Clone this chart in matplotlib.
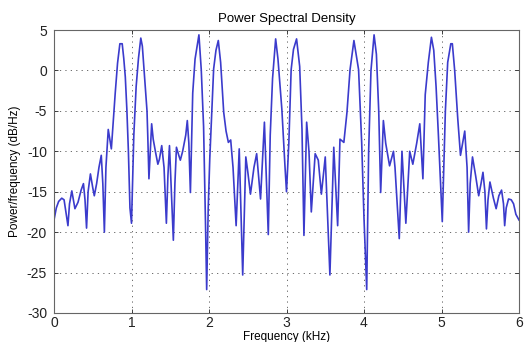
import numpy as np
import matplotlib
matplotlib.use('Agg')
import matplotlib.pyplot as plt

plt.rcParams['font.family'] = ['Liberation Sans', 'DejaVu Sans']
plt.rcParams['axes.unicode_minus'] = False

# frequency (kHz) / PSD (dB/Hz)
freq = [0.00, 0.03, 0.06, 0.10, 0.13, 0.15, 0.18, 0.20, 0.23, 0.25, 0.27, 0.31, 0.35, 0.38,
        0.40, 0.42, 0.44, 0.47, 0.50, 0.52, 0.55, 0.58, 0.61, 0.63, 0.65, 0.67, 0.70, 0.72,
        0.74, 0.77, 0.79, 0.82, 0.85, 0.88, 0.90, 0.92, 0.94, 0.96, 0.98, 1.00,
        1.03, 1.06, 1.09, 1.12, 1.14, 1.17, 1.20, 1.21, 1.225, 1.26, 1.28, 1.31, 1.34, 1.36,
        1.39, 1.42, 1.45, 1.47, 1.49, 1.51, 1.54, 1.56, 1.58, 1.61, 1.63, 1.66, 1.70, 1.72,
        1.74, 1.76, 1.79, 1.82, 1.87, 1.90, 1.93, 1.955, 1.97,
        1.99, 2.01, 2.06, 2.09, 2.12, 2.15, 2.19, 2.22, 2.25, 2.28, 2.31, 2.35, 2.39, 2.435,
        2.475, 2.50, 2.535, 2.58, 2.615, 2.665, 2.715, 2.765, 2.79, 2.82, 2.86, 2.89, 2.94,
        2.98, 3.00,
        3.03, 3.06, 3.09, 3.13, 3.17, 3.20, 3.225, 3.26, 3.29, 3.32, 3.37, 3.41, 3.45, 3.50,
        3.56, 3.61, 3.66, 3.69, 3.74, 3.78, 3.82, 3.87, 3.93, 3.97, 4.00, 4.035,
        4.06, 4.09, 4.13, 4.16, 4.19, 4.215, 4.25, 4.28, 4.33, 4.38, 4.40, 4.455, 4.49, 4.54,
        4.59, 4.63, 4.68, 4.72, 4.76, 4.79, 4.83, 4.87, 4.90, 4.93, 4.96, 5.01,
        5.05, 5.08, 5.12, 5.14, 5.17, 5.21, 5.245, 5.30, 5.33, 5.35, 5.37, 5.40, 5.44, 5.48,
        5.51, 5.535, 5.56, 5.58, 5.60, 5.625, 5.67, 5.705, 5.74, 5.775, 5.80, 5.815, 5.835,
        5.865, 5.90, 5.93, 5.96, 6.00]
psd = [-18.5, -17.0, -16.2, -15.8, -16.0, -17.3, -19.2, -16.5, -14.9, -16.0, -17.1, -16.3, -14.8, -14.0,
       -16.0, -19.5, -15.0, -12.8, -14.5, -15.5, -14.0, -12.0, -10.5, -14.0, -20.0, -12.0, -7.3, -8.5,
       -9.7, -5.5, -2.8, 0.9, 3.3, 3.3, 1.5, -0.8, -4.8, -10.0, -17.0, -18.9,
       -8.0, -2.0, 1.5, 4.0, 3.0, -1.0, -5.0, -8.1, -13.4, -6.6, -8.5, -10.1, -11.6, -11.0,
       -9.3, -12.0, -18.9, -13.0, -9.3, -14.0, -21.0, -14.0, -9.5, -10.5, -11.1, -10.0, -8.0, -6.2,
       -9.0, -15.1, -2.8, 1.4, 4.4, 0.1, -6.9, -19.0, -27.1,
       -17.0, -10.9, 0.2, 2.5, 3.7, 1.0, -5.2, -7.5, -8.9, -8.6, -12.0, -19.2, -9.7, -25.3,
       -10.7, -12.5, -15.3, -12.0, -10.3, -15.9, -6.4, -20.3, -8.0, -1.0, 3.9, 1.4, -4.8,
       -11.8, -15.0,
       -9.0, 0.1, 2.6, 3.9, 0.5, -7.3, -20.4, -6.4, -10.0, -17.5, -10.3, -11.1, -15.3, -10.7,
       -25.3, -9.5, -19.2, -8.5, -8.9, -5.2, 0.1, 3.7, 0.1, -8.9, -18.3, -27.1,
       -10.0, 0.0, 4.4, 2.0, -5.0, -15.1, -6.2, -9.0, -11.8, -10.0, -12.0, -20.8, -10.0, -18.9,
       -10.0, -11.6, -9.0, -6.6, -13.4, -3.0, 1.0, 4.1, 2.5, -2.0, -8.0, -18.7,
       -5.0, 1.0, 3.3, 3.3, 0.0, -6.0, -10.5, -7.5, -12.0, -20.0, -14.0, -10.7, -13.0, -15.5,
       -14.0, -12.6, -15.0, -19.6, -16.0, -13.8, -15.8, -17.1, -15.5, -14.8, -16.5, -19.2, -17.0,
       -15.9, -16.0, -16.5, -17.8, -18.5]

xticks = [0, 1, 2, 3, 4, 5, 6]
yticks = [-30, -25, -20, -15, -10, -5, 0, 5]

fig = plt.figure(figsize=(5.26, 3.42), dpi=100, facecolor='white')
ax = fig.add_axes([54 / 526, 1 - 313 / 342, 465 / 526, 283 / 342])

ax.plot(freq, psd, color='#3b3bcc', linewidth=1.2)

ax.set_xlim(0, 6)
ax.set_ylim(-30, 5)
ax.set_xticks(xticks)
ax.set_yticks(yticks)
ax.grid(True, color='#555555', linestyle=(0, (1.5, 5)), linewidth=0.6)
ax.tick_params(direction='in', length=3, width=0.6, top=True, right=True,
               labelsize=10, pad=5, colors='#222222')
ax.tick_params(axis='x', pad=2)
for s in ax.spines.values():
    s.set_color('#666666')
    s.set_linewidth(0.8)

ax.set_title('Power Spectral Density', fontsize=9.5, pad=6)
ax.set_xlabel('Frequency (kHz)', fontsize=8.5)
ax.xaxis.set_label_coords(0.5, -0.062)
ax.set_ylabel('Power/frequency (dB/Hz)', fontsize=8.5)
ax.yaxis.set_label_coords(-0.072, 0.5)

fig.savefig('out.png', dpi=100)
